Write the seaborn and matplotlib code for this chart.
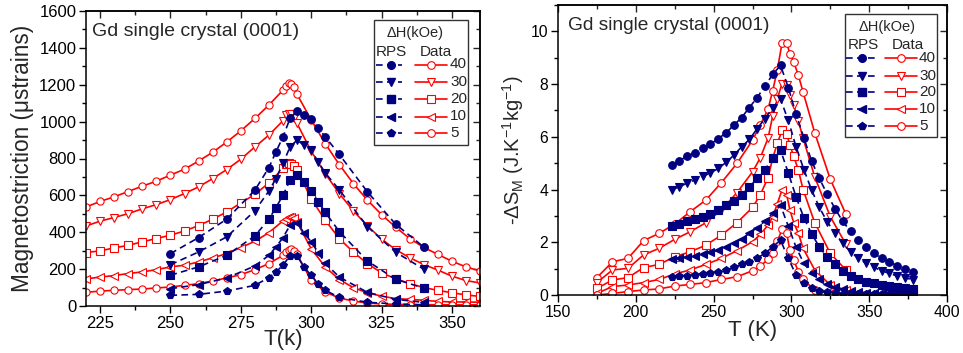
import matplotlib
matplotlib.use("Agg")
import matplotlib.pyplot as plt
import pandas as pd
import seaborn as sns
from matplotlib.ticker import MultipleLocator
from matplotlib.lines import Line2D
from matplotlib.patches import Rectangle

# ---------------- data ----------------
fields = [40, 30, 20, 10, 5]

# Magnetostriction (microstrains), measured data
T_ms_data = [220, 225, 230, 235, 240, 245, 250, 255, 260, 265, 270, 275, 280, 285,
             290, 291, 292, 293, 294, 295,
             300, 305, 310, 315, 320, 325, 330, 335, 340, 345, 350, 355, 360]
ms_data_40 = [537, 567, 592, 621, 650, 677, 710, 742, 786, 834, 889, 950, 1017, 1090,
              1171, 1195, 1207, 1204, 1186, 1148,
              1010, 881, 767, 664, 574, 496, 428, 366, 318, 280, 243, 212, 190]
ms_data_30 = [434, 460, 480, 501, 527, 550, 577, 610, 646, 691, 740, 796, 863, 927,
              1005, 1035, 1044, 1040, 1020, 990,
              840, 718, 610, 516, 435, 363, 306, 262, 225, 195, 162, 138, 125]
ms_data_20 = [290, 299, 315, 329, 348, 366, 384, 407, 436, 471, 510, 559, 605, 668,
              746, 768, 775, 772, 758, 740,
              582, 465, 366, 292, 230, 180, 148, 122, 100, 85, 72, 60, 52]
ms_data_10 = [147, 157, 165, 176, 185, 197, 212, 221, 239, 261, 284, 317, 351, 398,
              462, 474, 482, 485, 475, 455,
              311, 212, 143, 100, 71, 54, 40, 36, 31, 25, 22, 22, 20]
ms_data_5 = [74, 81, 85, 89, 92, 98, 103, 112, 121, 136, 152, 170, 197, 230,
             275, 293, 306, 308, 300, 280,
             139, 76, 43, 27, 16, 11, 9, 8, 7, 7, 6, 6, 6]

# Magnetostriction, RPS model
T_ms_rps = [250, 260, 270, 280, 285, 287.5, 290, 292.5, 295, 297.5, 300, 302.5, 305,
            310, 320, 330, 340]
ms_rps_40 = [284, 371, 471, 628, 751, 836, 918, 1017, 1057, 1035, 1014, 966, 918, 822, 619, 444, 320]
ms_rps_30 = [224, 293, 375, 516, 624, 691, 773, 863, 900, 872, 845, 782, 722, 630, 430, 292, 200]
ms_rps_20 = [167, 212, 275, 380, 471, 534, 601, 682, 710, 673, 624, 566, 508, 404, 244, 145, 97]
ms_rps_10 = [94, 116, 152, 217, 275, 320, 371, 438, 451, 396, 348, 290, 232, 157, 74, 36, 20]
ms_rps_5 = [58, 63, 81, 112, 154, 185, 221, 273, 272, 210, 166, 119, 85, 47, 20, 11, 6]

# Magnetic entropy change -dS_M (J/K/kg), measured data
T_ds_data = [175, 185, 195, 205, 215, 225, 235, 245, 255, 265, 275, 280, 285, 288,
             291, 294, 297, 299, 301.5, 304.5, 307.5, 315, 325, 335]
ds_data_40 = [0.66, 1.26, 1.39, 2.06, 2.34, 2.69, 3.16, 3.60, 4.26, 4.99, 5.87, 6.45,
              7.05, 7.75, 8.55, 9.56, 9.56, 9.15, 8.84, 8.33, 7.70, 6.15, 4.39, 3.07]
ds_data_30 = [0.47, 0.95, 1.01, 1.52, 1.77, 2.11, 2.40, 2.74, 3.22, 3.88, 4.67, 5.20,
              5.95, 6.80, 7.45, 8.02, 7.95, 7.60, 7.20, 6.60, 5.95, 4.48, 2.97, 1.93]
ds_data_20 = [0.25, 0.57, 0.66, 1.04, 1.16, 1.45, 1.64, 1.89, 2.27, 2.74, 3.32, 3.80,
              4.45, 5.20, 5.75, 6.25, 6.12, 5.68, 5.27, 4.73, 4.00, 2.74, 1.58, 0.95]
ds_data_10 = [0.06, 0.32, 0.38, 0.47, 0.59, 0.80, 0.95, 1.16, 1.39, 1.68, 2.02, 2.30,
              2.65, 2.97, 3.47, 4.00, 3.79, 3.24, 2.74, 2.34, 1.77, 0.95, 0.38, 0.19]
ds_data_5 = [0.00, 0.06, 0.13, 0.19, 0.23, 0.34, 0.40, 0.47, 0.59, 0.69, 0.92, 1.10,
             1.35, 1.60, 2.05, 2.49, 2.34, 1.70, 1.33, 0.88, 0.59, 0.19, 0.06, 0.03]

# -dS_M, RPS model
T_ds_rps = [223, 228, 233, 238, 243, 248, 253, 258, 263, 268, 273, 278, 283, 288, 293,
            298, 303, 308, 313, 318, 323, 328, 333, 338, 343, 348, 353, 358, 363, 368, 373, 378]
ds_rps_40 = [4.92, 5.09, 5.27, 5.39, 5.56, 5.72, 5.93, 6.15, 6.44, 6.73, 7.11, 7.49, 7.92, 8.37,
             8.71, 7.87, 6.86, 5.96, 5.08, 4.42, 3.82, 3.28, 2.79, 2.42, 2.10, 1.82, 1.58,
             1.39, 1.25, 1.11, 0.98, 0.86]
ds_rps_30 = [4.00, 4.10, 4.25, 4.36, 4.50, 4.63, 4.80, 5.03, 5.30, 5.62, 5.90, 6.31, 6.69, 7.11,
             7.43, 6.62, 5.62, 4.76, 3.98, 3.32, 2.78, 2.34, 1.96, 1.64, 1.39, 1.20, 1.05,
             0.92, 0.82, 0.72, 0.66, 0.57]
ds_rps_20 = [2.61, 2.69, 2.80, 2.89, 2.97, 3.07, 3.22, 3.40, 3.57, 3.79, 4.10, 4.42, 4.76, 5.18,
             5.50, 4.63, 3.72, 2.93, 2.32, 1.82, 1.44, 1.16, 0.92, 0.72, 0.61, 0.51, 0.44,
             0.38, 0.33, 0.29, 0.25, 0.21]
ds_rps_10 = [1.35, 1.39, 1.45, 1.48, 1.54, 1.62, 1.70, 1.81, 1.96, 2.12, 2.34, 2.56, 2.80, 3.10,
             3.40, 2.61, 1.81, 1.20, 0.85, 0.59, 0.42, 0.29, 0.21, 0.15, 0.11, 0.09, 0.08,
             0.06, 0.05, 0.05, 0.04, 0.04]
ds_rps_5 = [0.69, 0.71, 0.73, 0.76, 0.79, 0.83, 0.88, 0.95, 1.05, 1.16, 1.27, 1.40, 1.58, 1.83,
            2.08, 1.39, 0.76, 0.44, 0.25, 0.15, 0.10, 0.07, 0.05, 0.04, 0.03, 0.03, 0.02,
            0.02, 0.02, 0.02, 0.02, 0.02]

# ---------------- style ----------------
sns.set_theme(style="ticks")
plt.rcParams["font.family"] = ["Liberation Sans", "DejaVu Sans"]
plt.rcParams["mathtext.fontset"] = "custom"
plt.rcParams["mathtext.rm"] = "Liberation Sans"
plt.rcParams["mathtext.it"] = "Liberation Sans:italic"
plt.rcParams["mathtext.bf"] = "Liberation Sans:bold"

RED = "#ff0000"
NAVY = "#000080"
DASH = (0, (4, 2.6))
rps_markers = ["o", "v", "s", "<", "p"]
data_markers = ["o", "v", "s", "<", "o"]

W, H = 963, 353
fig = plt.figure(figsize=(W / 100, H / 100), dpi=100)


def fx(px):
    return px / W


def fy(py):
    return 1 - py / H


ax1 = fig.add_axes([fx(86), fy(306), fx(480) - fx(86), fy(11) - fy(306)])
ax2 = fig.add_axes([fx(558), fy(295), fx(947) - fx(558), fy(5) - fy(295)])


def draw(ax, T, vals, color, marker, model, ms):
    df = pd.DataFrame({"T": T, "v": vals})
    sns.lineplot(data=df, x="T", y="v", ax=ax, sort=False, estimator=None, legend=False,
                 color=color, marker=marker, markersize=ms,
                 markerfacecolor=color if model else "white",
                 markeredgecolor=color, markeredgewidth=0.8,
                 linewidth=1.2,
                 linestyle=DASH if model else "-")


ms_data = [ms_data_40, ms_data_30, ms_data_20, ms_data_10, ms_data_5]
ms_rps = [ms_rps_40, ms_rps_30, ms_rps_20, ms_rps_10, ms_rps_5]
ds_data = [ds_data_40, ds_data_30, ds_data_20, ds_data_10, ds_data_5]
ds_rps = [ds_rps_40, ds_rps_30, ds_rps_20, ds_rps_10, ds_rps_5]

for i in range(5):
    draw(ax1, T_ms_data, ms_data[i], RED, data_markers[i], False, 5.2)
for i in range(5):
    draw(ax1, T_ms_rps, ms_rps[i], NAVY, rps_markers[i], True, 5.5)
for i in range(5):
    draw(ax2, T_ds_data, ds_data[i], RED, data_markers[i], False, 5.5)
for i in range(5):
    draw(ax2, T_ds_rps, ds_rps[i], NAVY, rps_markers[i], True, 5.5)

# ---------------- axes ----------------
def style_axes(ax, xlim, ylim, xmaj, xmin, ymaj, ymin, tick_fs):
    ax.set_xlim(*xlim)
    ax.set_ylim(*ylim)
    ax.xaxis.set_major_locator(MultipleLocator(xmaj))
    ax.xaxis.set_minor_locator(MultipleLocator(xmin))
    ax.yaxis.set_major_locator(MultipleLocator(ymaj))
    ax.yaxis.set_minor_locator(MultipleLocator(ymin))
    for s in ax.spines.values():
        s.set_linewidth(1.1)
        s.set_color("black")
    ax.tick_params(which="both", direction="out", top=False, right=False,
                   width=1.0, colors="black", labelsize=tick_fs, pad=2)
    ax.tick_params(which="major", length=5)
    ax.tick_params(which="minor", length=3)
    top = ax.secondary_xaxis("top")
    top.xaxis.set_major_locator(MultipleLocator(xmaj))
    top.xaxis.set_minor_locator(MultipleLocator(xmin))
    top.tick_params(which="both", direction="in", labeltop=False, width=1.0)
    top.tick_params(which="major", length=5)
    top.tick_params(which="minor", length=3)
    right = ax.secondary_yaxis("right")
    right.yaxis.set_major_locator(MultipleLocator(ymaj))
    right.yaxis.set_minor_locator(MultipleLocator(ymin))
    right.tick_params(which="both", direction="in", labelright=False, width=1.0)
    right.tick_params(which="major", length=5)
    right.tick_params(which="minor", length=3)


style_axes(ax1, (220, 360), (0, 1600), 25, 12.5, 200, 100, 12)
style_axes(ax2, (150, 400), (0, 11), 50, 25, 2, 1, 11.3)

ax1.set_xlabel("T(k)", fontsize=16, labelpad=-1)
ax1.set_ylabel("Magnetostriction (\u03bcstrains)", fontsize=16.3, labelpad=4)
ax2.set_xlabel("T (K)", fontsize=16, labelpad=0)
ax2.set_ylabel(r"-$\Delta$S$_\mathrm{M}$ (J.K$^\mathrm{-1}$kg$^\mathrm{-1}$)",
               fontsize=14.5, labelpad=3)

fig.text(fx(92), fy(32), "Gd single crystal (0001)", fontsize=14, va="center", ha="left")
fig.text(fx(568), fy(26), "Gd single crystal (0001)", fontsize=13.8, va="center", ha="left")


# ---------------- legends ----------------
def legend_block(box, head_xy, rps_x, data_x, rows_y, blue_seg, blue_mk, red_seg, red_mk,
                 lab_x):
    x0, y0, x1, y1 = box
    fig.add_artist(Rectangle((fx(x0), fy(y1)), fx(x1) - fx(x0), fy(y0) - fy(y1),
                             transform=fig.transFigure, facecolor="white",
                             edgecolor="#333333", linewidth=1.0, zorder=5))
    fig.text(fx(head_xy[0]), fy(head_xy[1]), "\u0394H(kOe)", fontsize=10.5,
             ha="center", va="center", zorder=6)
    fig.text(fx(rps_x), fy(head_xy[1] + 18.5), "RPS", fontsize=11, ha="left",
             va="center", zorder=6)
    fig.text(fx(data_x), fy(head_xy[1] + 18.5), "Data", fontsize=11, ha="left",
             va="center", zorder=6)
    for i, yy in enumerate(rows_y):
        fig.add_artist(Line2D([fx(blue_seg[0]), fx(blue_seg[1])], [fy(yy), fy(yy)],
                              transform=fig.transFigure, color=NAVY, lw=1.2,
                              linestyle=DASH, zorder=6))
        fig.add_artist(Line2D([fx(blue_mk)], [fy(yy)], transform=fig.transFigure,
                              color=NAVY, marker=rps_markers[i], markersize=5.5,
                              linestyle="none", zorder=7))
        fig.add_artist(Line2D([fx(red_seg[0]), fx(red_seg[1])], [fy(yy), fy(yy)],
                              transform=fig.transFigure, color=RED, lw=1.2, zorder=6))
        fig.add_artist(Line2D([fx(red_mk)], [fy(yy)], transform=fig.transFigure,
                              color=RED, marker=data_markers[i], markersize=5.5,
                              markerfacecolor="white", markeredgewidth=0.8,
                              linestyle="none", zorder=7))
        fig.text(fx(lab_x), fy(yy), str(fields[i]), fontsize=11, ha="left",
                 va="center", zorder=7)


legend_block((374, 20, 468, 145), (415, 33), 376, 420,
             [64.5, 82, 99, 116.5, 133.5], (376, 402), 391, (415, 447), 431, 450)
legend_block((845, 14, 937, 137.5), (887, 26.5), 848, 891.5,
             [58.3, 75.7, 92, 109, 125.7], (846, 876), 861.5, (885, 917), 901, 919)

fig.savefig("out.png", dpi=100)
